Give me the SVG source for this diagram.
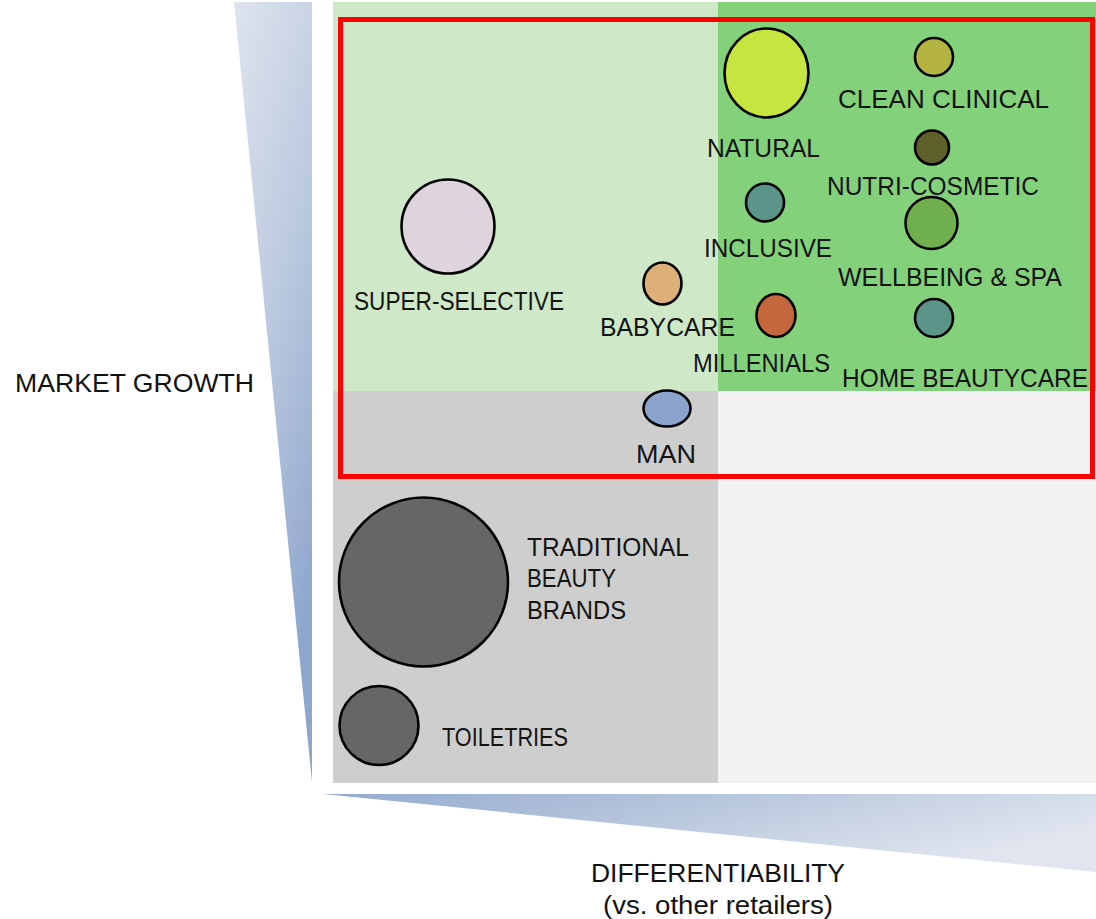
<svg xmlns="http://www.w3.org/2000/svg" width="1096" height="919" viewBox="0 0 1096 919">
  <defs>
    <linearGradient id="gv" x1="0" y1="0" x2="0.35" y2="1">
      <stop offset="0" stop-color="#dfe4ee"/>
      <stop offset="0.5" stop-color="#bccadf"/>
      <stop offset="1" stop-color="#8ea6cd"/>
    </linearGradient>
    <linearGradient id="gh" x1="0" y1="0" x2="1" y2="0.4">
      <stop offset="0" stop-color="#94aad0"/>
      <stop offset="0.5" stop-color="#bac8dd"/>
      <stop offset="1" stop-color="#e0e5ef"/>
    </linearGradient>
    <style>
      .lbl { font-family: "Liberation Sans", Arial, sans-serif; font-size: 26px; fill: #141414; }
      .ax { font-family: "Liberation Sans", Arial, sans-serif; font-size: 26px; fill: #111; }
      .b { stroke: #000; stroke-width: 2.6; }
    </style>
  </defs>
  <rect width="1096" height="919" fill="#ffffff"/>
  <g id="quadrants">
    <rect x="333" y="2" width="385" height="389" fill="#cee8c8"/>
    <rect x="718" y="2" width="378" height="389" fill="#84d17c"/>
    <rect x="333" y="391" width="385" height="392" fill="#cecece"/>
    <rect x="718" y="391" width="378" height="392" fill="#f2f2f2"/>
  </g>
  <g id="axes">
    <polygon points="234,2 312,2 312,782" fill="url(#gv)"/>
    <polygon points="323,794 1096,794 1096,872" fill="url(#gh)"/>
    <text class="ax" x="15" y="392" textLength="239" lengthAdjust="spacingAndGlyphs">MARKET GROWTH</text>
    <text class="ax" x="591" y="882" textLength="254" lengthAdjust="spacingAndGlyphs">DIFFERENTIABILITY</text>
    <text class="ax" x="603" y="914" textLength="230" lengthAdjust="spacingAndGlyphs">(vs. other retailers)</text>
  </g>
  <rect id="focus" x="340.5" y="19.5" width="752" height="457" fill="none" stroke="#ff0000" stroke-width="5"/>
  <g id="connectors"/>
  <g id="natural">
    <ellipse class="b" cx="766.5" cy="73" rx="42" ry="44.5" fill="#c4e63f"/>
    <text class="lbl" x="707" y="157" textLength="113" lengthAdjust="spacingAndGlyphs">NATURAL</text>
  </g>
  <g id="clean-clinical">
    <circle class="b" cx="934" cy="57" r="19" fill="#b3b441"/>
    <text class="lbl" x="838" y="108" textLength="211" lengthAdjust="spacingAndGlyphs">CLEAN CLINICAL</text>
  </g>
  <g id="nutri-cosmetic">
    <circle class="b" cx="932" cy="147.5" r="17" fill="#5e602a"/>
    <text class="lbl" x="827" y="195" textLength="212" lengthAdjust="spacingAndGlyphs">NUTRI-COSMETIC</text>
  </g>
  <g id="inclusive">
    <circle class="b" cx="765" cy="202.5" r="19" fill="#5b9488"/>
    <text class="lbl" x="704" y="257" textLength="128" lengthAdjust="spacingAndGlyphs">INCLUSIVE</text>
  </g>
  <g id="wellbeing-spa">
    <circle class="b" cx="931.5" cy="223" r="26" fill="#6faf4d"/>
    <text class="lbl" x="838" y="286" textLength="224" lengthAdjust="spacingAndGlyphs">WELLBEING &amp; SPA</text>
  </g>
  <g id="super-selective">
    <ellipse class="b" cx="448" cy="226.5" rx="46.5" ry="47" fill="#ded5dc"/>
    <text class="lbl" x="354" y="310" textLength="210" lengthAdjust="spacingAndGlyphs">SUPER-SELECTIVE</text>
  </g>
  <g id="babycare">
    <ellipse class="b" cx="662.5" cy="283.5" rx="19" ry="21" fill="#ddb07a"/>
    <text class="lbl" x="600" y="336" textLength="135" lengthAdjust="spacingAndGlyphs">BABYCARE</text>
  </g>
  <g id="millenials">
    <ellipse class="b" cx="776" cy="315.5" rx="19.5" ry="21.5" fill="#c4673d"/>
    <text class="lbl" x="693" y="372" textLength="137" lengthAdjust="spacingAndGlyphs">MILLENIALS</text>
  </g>
  <g id="home-beautycare">
    <circle class="b" cx="934" cy="318" r="19" fill="#5b9488"/>
    <text class="lbl" x="842" y="387" textLength="246" lengthAdjust="spacingAndGlyphs">HOME BEAUTYCARE</text>
  </g>
  <g id="man">
    <ellipse class="b" cx="667" cy="408.5" rx="23.5" ry="18" fill="#8aa3cc"/>
    <text class="lbl" x="636" y="463" textLength="60" lengthAdjust="spacingAndGlyphs">MAN</text>
  </g>
  <g id="traditional-beauty-brands">
    <circle class="b" cx="423.5" cy="582" r="84.5" fill="#666666"/>
    <text class="lbl" x="527" y="556" textLength="162" lengthAdjust="spacingAndGlyphs">TRADITIONAL</text>
    <text class="lbl" x="527" y="587" textLength="89" lengthAdjust="spacingAndGlyphs">BEAUTY</text>
    <text class="lbl" x="527" y="619" textLength="99" lengthAdjust="spacingAndGlyphs">BRANDS</text>
  </g>
  <g id="toiletries">
    <circle class="b" cx="379" cy="725.5" r="39.5" fill="#666666"/>
    <text class="lbl" x="442" y="746" textLength="126" lengthAdjust="spacingAndGlyphs">TOILETRIES</text>
  </g>
</svg>
